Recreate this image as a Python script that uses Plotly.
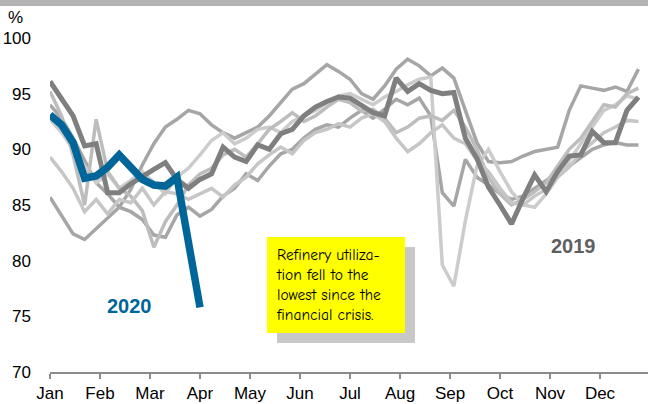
import plotly.graph_objects as go

months = ["Jan", "Feb", "Mar", "Apr", "May", "Jun", "Jul", "Aug", "Sep", "Oct", "Nov", "Dec"]

# weekly refinery utilization (%), past years (grey)
hist_a = [85.7, 84.0, 82.4, 81.9, 82.9, 83.8, 84.8, 86.4, 88.6, 90.5, 92.0, 92.7, 93.5,
          93.2, 92.2, 91.5, 91.0, 91.5, 92.0, 93.0, 94.2, 95.4, 95.9, 96.8, 97.6, 97.0,
          96.3, 95.0, 94.5, 95.7, 97.2, 98.1, 97.5, 96.6, 97.3, 96.4, 93.5, 90.6, 88.9,
          88.8, 88.9, 89.4, 89.8, 90.0, 90.2, 93.5, 95.7, 95.5, 95.3, 95.6, 95.2, 97.2]
hist_b = [94.0, 92.8, 91.0, 89.0, 87.0, 86.0, 84.8, 84.4, 83.7, 82.3, 82.1, 84.1, 84.8,
          84.0, 84.6, 85.8, 86.5, 87.8, 87.2, 88.5, 89.6, 90.0, 91.0, 91.8, 92.2, 92.0,
          92.8, 93.5, 92.8, 93.6, 94.5, 94.0, 94.6, 93.0, 86.1, 84.9, 89.1, 87.5, 86.8,
          86.0, 85.5, 85.8, 86.5, 87.2, 87.9, 88.5, 89.3, 90.0, 90.4, 90.6, 90.4, 90.4]
hist_c = [92.7, 91.5, 90.0, 88.5, 87.0, 87.8, 86.5, 87.2, 88.0, 87.0, 86.0, 87.5, 88.3,
          89.5, 90.8, 91.5, 90.5, 91.0, 91.8, 92.0, 91.5, 92.5, 93.0, 93.5, 94.2, 94.8,
          95.0, 94.5, 94.0, 94.7, 95.2, 95.8, 96.3, 96.5, 79.6, 77.7, 83.6, 88.5, 90.0,
          88.0, 86.2, 85.0, 84.8, 86.0, 87.5, 89.0, 90.5, 92.0, 93.5, 94.0, 94.8, 94.5]
hist_d = [95.2, 93.0, 89.5, 85.0, 92.7, 88.0, 86.5, 85.8, 84.5, 81.2, 83.5, 85.0, 86.8,
          87.8, 88.3, 89.5, 90.0, 89.3, 90.5, 91.8, 92.5, 93.3, 92.5, 93.0, 93.8, 94.5,
          94.2, 93.4, 93.6, 92.8, 91.5, 92.0, 92.8, 93.0, 92.6, 93.5, 92.0, 90.0, 87.5,
          86.0, 85.0, 85.5, 86.2, 87.0, 88.5, 90.0, 91.0, 92.5, 94.0, 93.8, 95.0, 95.5]
hist_e = [89.3, 88.0, 86.5, 84.4, 85.5, 84.2, 85.5, 85.2, 86.5, 85.0, 86.2, 86.0, 85.5,
          86.0, 86.5, 85.7, 86.8, 87.5, 88.7, 89.5, 90.2, 89.6, 90.8, 91.5, 91.8, 92.3,
          92.0, 92.8, 93.2, 92.5, 91.0, 89.8, 90.5, 91.5, 92.2, 91.0, 90.5, 89.0, 88.0,
          86.5, 85.2, 85.0, 85.8, 86.4, 87.5, 88.4, 89.7, 90.6, 91.5, 92.0, 92.6, 92.5]
y2019 = [96.1, 94.6, 93.0, 90.3, 90.5, 86.1, 86.1, 86.9, 87.6, 88.2, 88.8, 87.3, 86.5,
         87.3, 87.8, 90.2, 89.3, 88.9, 90.4, 90.0, 91.4, 91.8, 93.0, 93.8, 94.3, 94.7,
         94.6, 94.0, 93.3, 93.0, 96.4, 95.2, 95.9, 95.3, 95.0, 95.1, 91.0, 89.2, 86.6,
         85.0, 83.3, 85.6, 87.7, 86.2, 88.0, 89.4, 89.5, 91.6, 90.6, 90.6, 93.5, 94.7]
y2020 = [93.1, 92.2, 90.6, 87.4, 87.6, 88.4, 89.5, 88.3, 87.3, 86.8, 86.7, 87.5, 81.3, 75.8]

hist_series = [hist_a, hist_b, hist_c, hist_d, hist_e]
hist_colors = ["#a6a6a6", "#a6a6a6", "#cccccc", "#bdbdbd", "#c6c6c6"]

def week_x(n):
    return [i * 12 / 52 for i in range(n)]

fig = go.Figure()
for s, c in zip(hist_series, hist_colors):
    fig.add_trace(go.Scatter(x=week_x(len(s)), y=s, mode="lines",
                             line=dict(color=c, width=3.5), hoverinfo="skip"))
fig.add_trace(go.Scatter(x=week_x(len(y2019)), y=y2019, mode="lines",
                         line=dict(color="#7f7f7f", width=5)))
fig.add_trace(go.Scatter(x=week_x(len(y2020)), y=y2020, mode="lines",
                         line=dict(color="#006699", width=7.5)))

font = "Liberation Sans, Arial, sans-serif"

fig.update_layout(
    width=648, height=404,
    margin=dict(l=50, r=0, t=38, b=32),
    paper_bgcolor="white", plot_bgcolor="white",
    showlegend=False,
    font=dict(family=font, size=17, color="black"),
    xaxis=dict(range=[0, 11.96], tickvals=list(range(12)), ticktext=months,
               showgrid=False, zeroline=False, showline=True, linecolor="#8c8c8c",
               linewidth=1.5, ticks="outside", ticklen=5, tickcolor="#8c8c8c",
               tickwidth=1.5, tickfont=dict(size=17)),
    yaxis=dict(range=[70, 100], tickvals=[70, 75, 80, 85, 90, 95, 100],
               showgrid=False, zeroline=False, showline=False, ticks="",
               ticklabelstandoff=18, tickfont=dict(size=17)),
    shapes=[
        dict(type="rect", xref="paper", yref="paper", x0=-0.09, x1=1.01,
             y0=1.0958, y1=1.12, fillcolor="#b3b3b3", line=dict(width=0), layer="above"),
        dict(type="rect", xref="x", yref="y", x0=4.54, x1=7.3, y0=72.6, y1=81.23,
             fillcolor="#c8c8c8", line=dict(width=0), layer="above"),
        dict(type="rect", xref="x", yref="y", x0=4.34, x1=7.1, y0=73.5, y1=82.13,
             fillcolor="#ffff00", line=dict(width=0), layer="above"),
    ],
    annotations=[
        dict(text="%", xref="paper", yref="paper", x=-0.057, y=1.06, showarrow=False,
             xanchor="center", yanchor="middle", font=dict(size=17)),
        dict(text="Refinery utiliza-<br>tion fell to the<br>lowest since the<br>financial crisis.",
             xref="x", yref="y", x=4.48, y=77.8, showarrow=False, align="left",
             xanchor="left", yanchor="middle",
             font=dict(family="Comic Sans MS, Comic Neue, Noto Sans, sans-serif", size=15.5, color="black")),
        dict(text="<b>2020</b>", xref="x", yref="y", x=1.58, y=75.9, showarrow=False,
             xanchor="center", yanchor="middle", font=dict(size=20, color="#006699")),
        dict(text="<b>2019</b>", xref="x", yref="y", x=10.46, y=81.3, showarrow=False,
             xanchor="center", yanchor="middle", font=dict(size=20, color="#5f5f5f")),
    ],
)

fig.write_html("out.html", config={"displayModeBar": False},
               post_script="document.body.style.margin='0';document.body.style.overflow='hidden';")
